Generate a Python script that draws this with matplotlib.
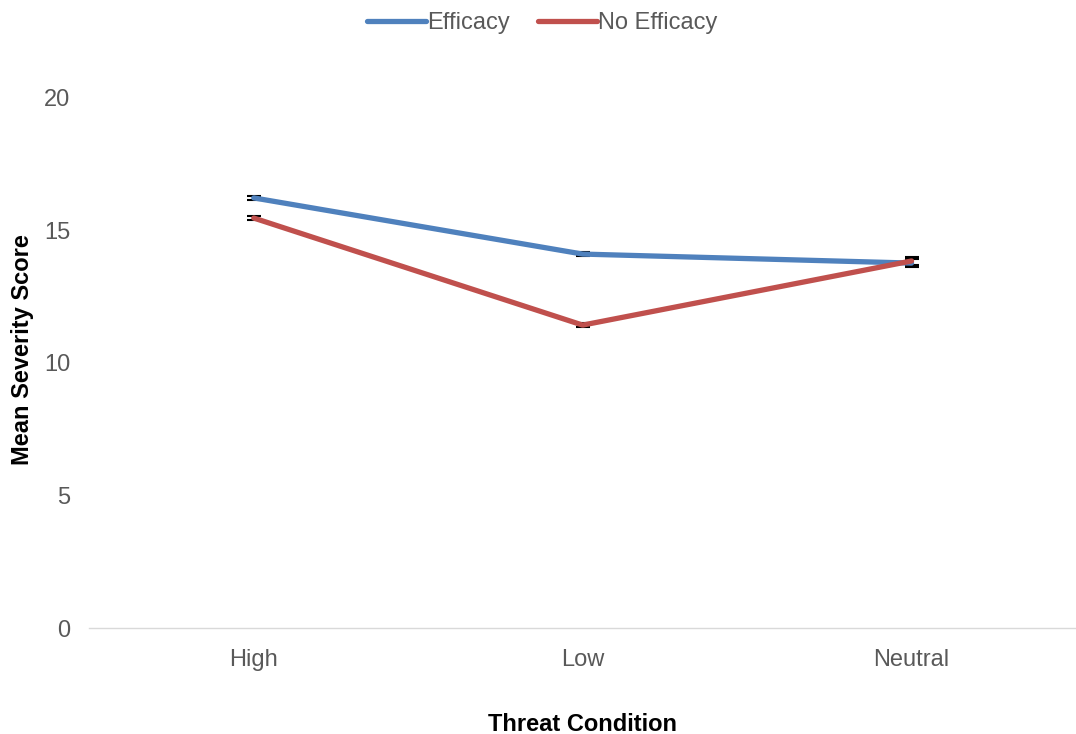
import matplotlib.pyplot as plt

plt.rcParams['font.family'] = ['Liberation Sans', 'DejaVu Sans']

# data
conditions = ['High', 'Low', 'Neutral']
efficacy = [16.23, 14.11, 13.77]
no_efficacy = [15.47, 11.43, 13.85]
efficacy_err = [0.08, 0.08, 0.15]
no_efficacy_err = [0.08, 0.08, 0.15]

fig = plt.figure(figsize=(10.76, 7.34), dpi=100)
ax = fig.add_axes([0.083, 0.1444, 0.917, 0.7221])

x = range(len(conditions))
ax.errorbar(x, efficacy, yerr=efficacy_err, color='#4f81bd', linewidth=3.8,
            ecolor='black', elinewidth=1.5, capsize=5, capthick=1.5, label='Efficacy',
            solid_capstyle='round')
ax.errorbar(x, no_efficacy, yerr=no_efficacy_err, color='#c0504d', linewidth=3.8,
            ecolor='black', elinewidth=1.5, capsize=5, capthick=1.5, label='No Efficacy',
            solid_capstyle='round')

ax.set_xlim(-0.5, 2.5)
ax.set_ylim(0, 20)
ax.set_yticks([0, 5, 10, 15, 20])
ax.set_xticks(list(x))
ax.set_xticklabels(conditions)
ax.tick_params(axis='both', length=0, labelsize=17, colors='#595959')
ax.tick_params(axis='x', pad=15)
ax.tick_params(axis='y', pad=13.5)

for s in ['top', 'right', 'left']:
    ax.spines[s].set_visible(False)
ax.spines['bottom'].set_color('#d9d9d9')
ax.spines['bottom'].set_linewidth(1)

ax.set_xlabel('Threat Condition', fontsize=17, fontweight='bold')
ax.xaxis.set_label_coords(0.5, -0.16)
ax.set_ylabel('Mean Severity Score', fontsize=17, fontweight='bold')
ax.yaxis.set_label_coords(-0.056, 0.525)

handles, labels = ax.get_legend_handles_labels()
handles = [h[0] for h in handles]
leg = fig.legend(handles, labels, loc='upper center', bbox_to_anchor=(0.504, 1.012), ncol=2,
                 frameon=False, fontsize=17, handlelength=2.5, handletextpad=0.05,
                 columnspacing=1.2)
for t in leg.get_texts():
    t.set_color('#595959')

fig.savefig('out.png')
